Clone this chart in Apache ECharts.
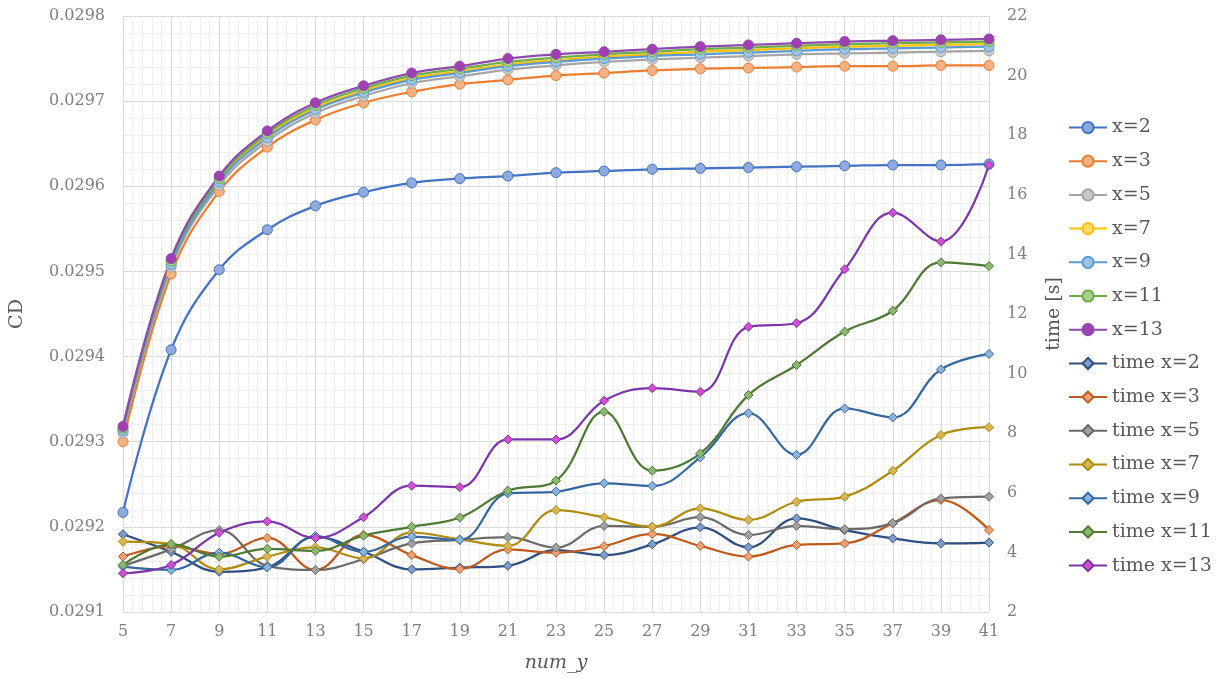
<!DOCTYPE html>
<html>
<head>
<meta charset="utf-8">
<script src="https://cdn.jsdelivr.net/npm/echarts@6/dist/echarts.min.js"></script>
<style>
  html, body { margin: 0; padding: 0; background: #fff; }
  #chart { width: 1227px; height: 683px; }
</style>
</head>
<body>
<div id="chart"></div>
<script>
// num_y values on the x axis
const numY = [5, 7, 9, 11, 13, 15, 17, 19, 21, 23, 25, 27, 29, 31, 33, 35, 37, 39, 41];

// CD per x (left axis)
const cdX2 = [0.029217, 0.029408, 0.029502, 0.029549, 0.029577, 0.029593, 0.029604, 0.029609, 0.029612, 0.029616, 0.029618, 0.02962, 0.029621, 0.029622, 0.029623, 0.029624, 0.029625, 0.029625, 0.029626];
const cdX3 = [0.0293, 0.029497, 0.029594, 0.029646, 0.029678, 0.029698, 0.029711, 0.02972, 0.029725, 0.02973, 0.029733, 0.029736, 0.029738, 0.029739, 0.02974, 0.029741, 0.029741, 0.029742, 0.029742];
const cdX5 = [0.02931, 0.029505, 0.029601, 0.029653, 0.029686, 0.029706, 0.029721, 0.029729, 0.029737, 0.029742, 0.029746, 0.029749, 0.029751, 0.029753, 0.029755, 0.029756, 0.029757, 0.029758, 0.029759];
const cdX7 = [0.029314, 0.02951, 0.029607, 0.02966, 0.029692, 0.029712, 0.029727, 0.029735, 0.029743, 0.029748, 0.029752, 0.029755, 0.029758, 0.02976, 0.029762, 0.029764, 0.029765, 0.029766, 0.029767];
const cdX9 = [0.029313, 0.029508, 0.029605, 0.029657, 0.02969, 0.02971, 0.029725, 0.029733, 0.029741, 0.029746, 0.02975, 0.029753, 0.029755, 0.029757, 0.029759, 0.029761, 0.029762, 0.029763, 0.029764];
const cdX11 = [0.029316, 0.029512, 0.029609, 0.029662, 0.029695, 0.029715, 0.02973, 0.029738, 0.029746, 0.029751, 0.029755, 0.029758, 0.029761, 0.029763, 0.029765, 0.029767, 0.029768, 0.029769, 0.02977];
const cdX13 = [0.029318, 0.029515, 0.029612, 0.029665, 0.029698, 0.029718, 0.029733, 0.029741, 0.02975, 0.029755, 0.029758, 0.029761, 0.029764, 0.029766, 0.029768, 0.02977, 0.029771, 0.029772, 0.029773];

// time [s] per x (right axis)
const timeX2 = [4.61, 4.02, 3.35, 3.5, 4.52, 4.02, 3.43, 3.49, 3.55, 4.08, 3.91, 4.27, 4.84, 4.17, 5.14, 4.75, 4.47, 4.30, 4.33];
const timeX3 = [3.86, 4.2, 3.95, 4.49, 3.41, 4.59, 3.91, 3.44, 4.10, 3.99, 4.21, 4.62, 4.22, 3.86, 4.25, 4.30, 4.98, 5.76, 4.75];
const timeX5 = [3.55, 4.1, 4.75, 3.55, 3.41, 3.77, 4.30, 4.42, 4.51, 4.16, 4.89, 4.86, 5.18, 4.58, 4.89, 4.78, 4.98, 5.81, 5.87];
const timeX7 = [4.36, 4.28, 3.43, 3.86, 4.17, 3.80, 4.66, 4.44, 4.22, 5.42, 5.18, 4.86, 5.48, 5.09, 5.70, 5.87, 6.74, 7.94, 8.20];
const timeX9 = [3.52, 3.41, 3.99, 3.50, 4.55, 4.02, 4.53, 4.42, 5.98, 6.04, 6.32, 6.23, 7.19, 8.67, 7.27, 8.83, 8.53, 10.14, 10.66];
const timeX11 = [3.58, 4.28, 3.86, 4.12, 4.05, 4.56, 4.86, 5.17, 6.07, 6.41, 8.72, 6.74, 7.32, 9.28, 10.29, 11.41, 12.11, 13.73, 13.61];
const timeX13 = [3.30, 3.58, 4.66, 5.04, 4.48, 5.18, 6.24, 6.19, 7.79, 7.79, 9.09, 9.51, 9.39, 11.57, 11.69, 13.5, 15.40, 14.43, 17.0];

const FONT = "DejaVu Serif";
const TXT = "#7f7f7f";

function pairs(vals) {
  return numY.map((x, i) => [x, vals[i]]);
}

function cdSeries(name, vals, line, fill) {
  return {
    name: name, type: "line", yAxisIndex: 0,
    data: pairs(vals), smooth: 0.4,
    symbol: "circle", symbolSize: 10,
    lineStyle: { color: line, width: 2.25 },
    itemStyle: { color: fill, borderColor: line, borderWidth: 1 },
  };
}

function timeSeries(name, vals, line, fill) {
  return {
    name: name, type: "line", yAxisIndex: 1,
    data: pairs(vals), smooth: 0.4,
    symbol: "diamond", symbolSize: 9,
    lineStyle: { color: line, width: 2.25 },
    itemStyle: { color: fill, borderColor: line, borderWidth: 1 },
  };
}

const chart = echarts.init(document.getElementById("chart"));

const option = {
  backgroundColor: "#fff",
  animation: false,
  textStyle: { fontFamily: FONT },
  grid: { left: 119, right: 238, top: 16, bottom: 71 },
  legend: {
    orient: "vertical",
    left: 1063, top: 113,
    itemWidth: 38, itemHeight: 14, itemGap: 14.7,
    textStyle: { fontFamily: FONT, fontSize: 19, color: "#595959" },
  },
  xAxis: {
    type: "value",
    min: 5, max: 41, interval: 2,
    name: "num_y", nameLocation: "middle", nameGap: 42,
    nameTextStyle: { fontFamily: FONT, fontStyle: "italic", fontSize: 19, color: "#595959" },
    axisLine: { show: false },
    axisTick: { show: false },
    axisLabel: { color: TXT, fontSize: 16, fontFamily: FONT, margin: 12 },
    splitLine: { show: true, lineStyle: { color: "#d9d9d9", width: 1 } },
    minorTick: { show: false, splitNumber: 5 },
    minorSplitLine: { show: true, lineStyle: { color: "#efefef", width: 1 } },
  },
  yAxis: [
    {
      type: "value",
      min: 0.0291, max: 0.0298, interval: 0.0001,
      name: "CD", nameLocation: "middle", nameGap: 96, nameRotate: 90,
      nameTextStyle: { fontFamily: FONT, fontSize: 19, color: "#595959" },
      axisLine: { show: false },
      axisTick: { show: false },
      axisLabel: { color: TXT, fontSize: 16, fontFamily: FONT, margin: 18,
        formatter: v => v.toFixed(4) },
      splitLine: { show: true, lineStyle: { color: "#d9d9d9", width: 1 } },
      minorTick: { show: false, splitNumber: 5 },
      minorSplitLine: { show: true, lineStyle: { color: "#efefef", width: 1 } },
    },
    {
      type: "value",
      min: 2, max: 22, interval: 2,
      name: "time [s]", nameLocation: "middle", nameGap: 56, nameRotate: 90,
      nameTextStyle: { fontFamily: FONT, fontSize: 19, color: "#595959" },
      axisLine: { show: false },
      axisTick: { show: false },
      axisLabel: { color: TXT, fontSize: 16, fontFamily: FONT, margin: 18 },
      splitLine: { show: false },
    },
  ],
  series: [
    cdSeries("x=2", cdX2, "#4472C4", "#8FAADC"),
    cdSeries("x=3", cdX3, "#ED7D31", "#F4B183"),
    cdSeries("x=5", cdX5, "#A5A5A5", "#C9C9C9"),
    cdSeries("x=7", cdX7, "#FFC000", "#FFD966"),
    cdSeries("x=9", cdX9, "#5B9BD5", "#9DC3E6"),
    cdSeries("x=11", cdX11, "#70AD47", "#A9D18E"),
    cdSeries("x=13", cdX13, "#8E4BAF", "#A040B0"),
    timeSeries("time x=2", timeX2, "#2F4F80", "#7F9CCB"),
    timeSeries("time x=3", timeX3, "#C05A1C", "#E8A27A"),
    timeSeries("time x=5", timeX5, "#6A6A6A", "#A0A0A0"),
    timeSeries("time x=7", timeX7, "#B08D12", "#D6B656"),
    timeSeries("time x=9", timeX9, "#36689E", "#8AB4DE"),
    timeSeries("time x=11", timeX11, "#4E7A34", "#8DB86F"),
    timeSeries("time x=13", timeX13, "#7D35A8", "#D050D0"),
  ],
};

chart.setOption(option);
</script>
</body>
</html>
